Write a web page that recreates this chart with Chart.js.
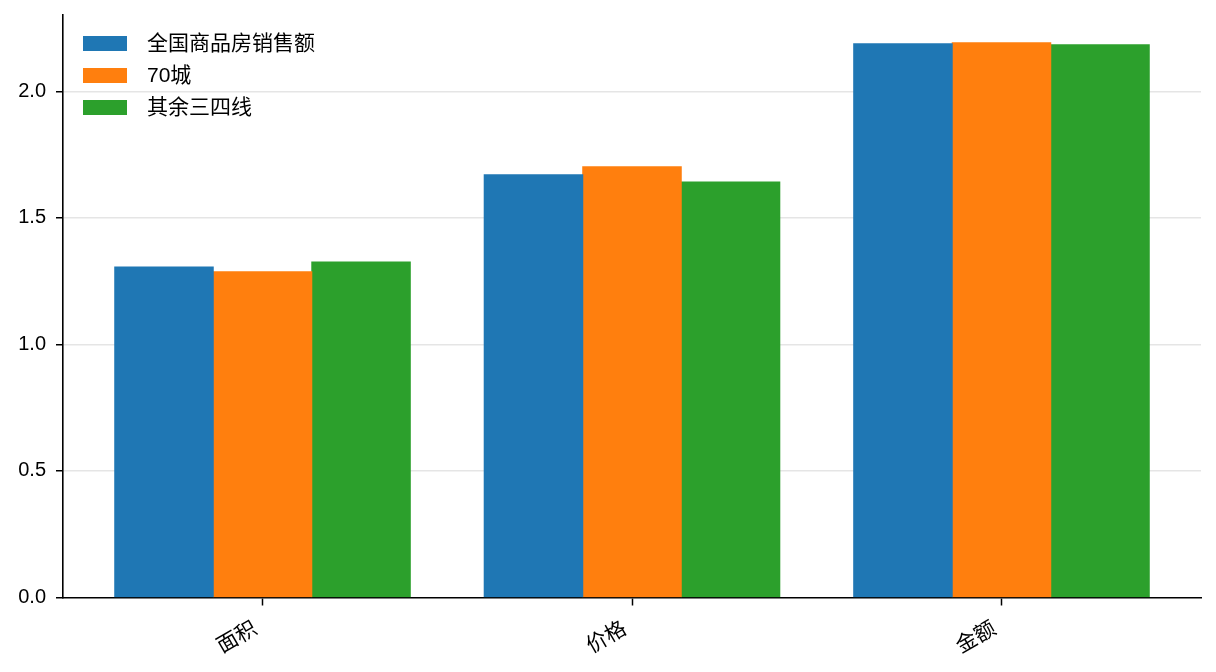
<!DOCTYPE html>
<html>
<head>
<meta charset="utf-8">
<script src="https://cdn.jsdelivr.net/npm/chart.js@4.4.1/dist/chart.umd.min.js"></script>
<style>
  html, body { margin: 0; padding: 0; background: #fff; }
  #wrap { width: 1216px; height: 672px; position: relative; }
</style>
</head>
<body>
<div id="wrap"><canvas id="chart"></canvas></div>
<script>
// 数据
const categories = ['面积', '价格', '金额'];
const seriesNames = ['全国商品房销售额', '70城', '其余三四线'];
const nationalValues = [1.306, 1.670, 2.188];
const city70Values = [1.287, 1.702, 2.192];
const otherValues = [1.326, 1.642, 2.184];
const yTicks = [0.0, 0.5, 1.0, 1.5, 2.0];

const colors = ['#1f77b4', '#ff7f0e', '#2ca02c'];
const FONT = "'Liberation Sans', 'Noto Sans CJK SC', sans-serif";

const allValues = [nationalValues, city70Values, otherValues];
const yMax = Math.max(...allValues.flat()) * 1.05;

const datasets = allValues.map((vals, i) => ({
  label: seriesNames[i],
  data: vals.map((v, j) => ({ x: j, y: v })),
  backgroundColor: colors[i],
  borderWidth: 0,
  inflateAmount: 0.5,
  categoryPercentage: 0.8,
  barPercentage: 1.0
}));

// 图例画在绘图区内左上角
const insideLegend = {
  id: 'insideLegend',
  afterDraw(chart) {
    const { ctx, chartArea } = chart;
    ctx.save();
    ctx.font = '21px ' + FONT;
    ctx.textBaseline = 'middle';
    ctx.textAlign = 'left';
    chart.data.datasets.forEach((ds, i) => {
      const cy = chartArea.top + 28.5 + i * 32;
      ctx.fillStyle = ds.backgroundColor;
      ctx.fillRect(chartArea.left + 20, cy - 7.5, 44, 15);
      ctx.fillStyle = '#000';
      ctx.fillText(ds.label, chartArea.left + 84, cy + 1);
    });
    ctx.restore();
  }
};

new Chart(document.getElementById('chart'), {
  type: 'bar',
  data: { datasets },
  options: {
    responsive: true,
    maintainAspectRatio: false,
    animation: false,
    devicePixelRatio: 1,
    layout: { padding: { top: 15, right: 15, left: 0, bottom: 0 } },
    plugins: {
      legend: { display: false },
      tooltip: { enabled: false }
    },
    scales: {
      x: {
        type: 'linear',
        offset: false,
        min: -0.54,
        max: categories.length - 1 + 0.54,
        z: 1,
        afterFit: s => { s.height = 74.5; s.paddingLeft = 0; s.paddingRight = 0; },
        border: { display: true, color: '#000', width: 1.6 },
        grid: { offset: false, drawOnChartArea: false, drawTicks: true, tickColor: '#000', tickLength: 8, tickWidth: 1.5 },
        ticks: {
          stepSize: 1,
          includeBounds: false,
          autoSkip: false,
          minRotation: 30,
          maxRotation: 30,
          padding: 11,
          labelOffset: -7,
          color: '#000',
          font: { family: FONT, size: 21 },
          callback: v => categories[v] ?? ''
        }
      },
      y: {
        type: 'linear',
        min: 0,
        max: yMax,
        z: 1,
        afterFit: s => { s.width = 63; s.paddingTop = 0; s.paddingBottom = 0; },
        afterBuildTicks: s => { s.ticks = yTicks.map(v => ({ value: v })); },
        border: { display: true, color: '#000', width: 1.6 },
        grid: {
          color: c => (c.tick && c.tick.value === 0) ? 'rgba(0,0,0,0)' : 'rgba(176,176,176,0.33)',
          lineWidth: 1.5,
          drawTicks: true,
          tickColor: '#000',
          tickLength: 7,
          tickWidth: 1.5
        },
        ticks: {
          padding: 10,
          color: '#000',
          font: { family: FONT, size: 20 },
          callback: v => v.toFixed(1)
        }
      }
    }
  },
  plugins: [insideLegend]
});
</script>
</body>
</html>
